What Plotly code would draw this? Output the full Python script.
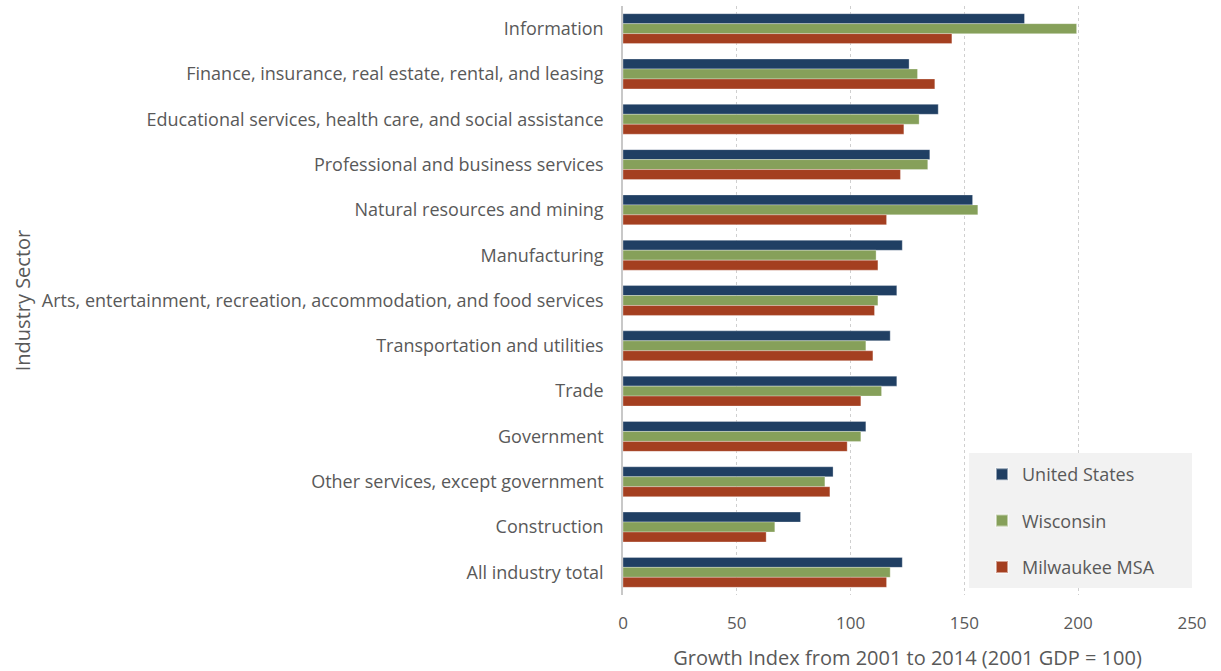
import plotly.graph_objects as go

sectors = [
    "Information",
    "Finance, insurance, real estate, rental, and leasing",
    "Educational services, health care, and social assistance",
    "Professional and business services",
    "Natural resources and mining",
    "Manufacturing",
    "Arts, entertainment, recreation, accommodation, and food services",
    "Transportation and utilities",
    "Trade",
    "Government",
    "Other services, except government",
    "Construction",
    "All industry total",
]
united_states = [176.4, 125.7, 138.5, 134.8, 153.6, 122.7, 120.3, 117.4, 120.3, 106.7, 92.3, 78.0, 122.7]
wisconsin = [199.3, 129.4, 130.1, 133.9, 155.9, 111.2, 112.0, 106.7, 113.6, 104.5, 88.7, 66.7, 117.4]
milwaukee = [144.5, 137.0, 123.4, 121.9, 115.8, 112.0, 110.5, 109.8, 104.5, 98.5, 90.9, 62.9, 115.8]
x_ticks = [0, 50, 100, 150, 200, 250]

series = [
    ("United States", united_states, "#203f63"),
    ("Wisconsin", wisconsin, "#86a05a"),
    ("Milwaukee MSA", milwaukee, "#a43f20"),
]

FONT = "Open Sans"
TXT = "#595959"

fig = go.Figure()
for i, (name, vals, col) in enumerate(series):
    fig.add_trace(go.Bar(
        y=sectors, x=vals, name=name, orientation="h",
        marker=dict(color=col, line=dict(color="rgba(255,255,255,0.5)", width=0.6)),
        legendgroup=f"g{i}",
    ))

fig.update_layout(
    width=1221, height=671,
    margin=dict(l=623, r=29, t=6, b=76, autoexpand=False),
    paper_bgcolor="white", plot_bgcolor="white",
    barmode="group", bargap=0.34, bargroupgap=0.0,
    font=dict(family=FONT, size=18, color=TXT),
    showlegend=True,
    legend=dict(
        x=(982 - 623) / 569, xanchor="left",
        y=1 - (456 - 6) / 589, yanchor="top",
        bgcolor="rgba(0,0,0,0)", borderwidth=0,
        font=dict(family=FONT, size=18, color=TXT),
        traceorder="grouped", tracegroupgap=20,
        itemsizing="constant",
    ),
    xaxis=dict(
        range=[0, 250], tickvals=x_ticks, ticktext=[str(v) for v in x_ticks],
        showgrid=True, gridcolor="#cfcfcf", griddash="dot", gridwidth=1,
        zeroline=False, showline=False, ticks="",
        tickfont=dict(family=FONT, size=17, color=TXT),
        ticklabelstandoff=16,
        title=dict(text="Growth Index from 2001 to 2014 (2001 GDP = 100)", standoff=17,
                   font=dict(family=FONT, size=20, color=TXT)),
        fixedrange=True,
    ),
    yaxis=dict(
        autorange="reversed", categoryorder="array", categoryarray=sectors,
        showgrid=False, zeroline=False,
        showline=True, linecolor="#c8c8c8", linewidth=1.5,
        ticks="", ticklabelstandoff=14,
        tickfont=dict(family=FONT, size=18, color=TXT),
        title=dict(text="Industry Sector", standoff=6,
                   font=dict(family=FONT, size=20, color=TXT)),
        fixedrange=True,
    ),
    shapes=[dict(
        type="rect", xref="paper", yref="paper", layer="above",
        x0=(969 - 623) / 569, x1=1.0,
        y0=1 - (588 - 6) / 589, y1=1 - (453 - 6) / 589,
        fillcolor="#f2f2f2", line=dict(width=0),
    )],
)

fig.write_html("out.html")
